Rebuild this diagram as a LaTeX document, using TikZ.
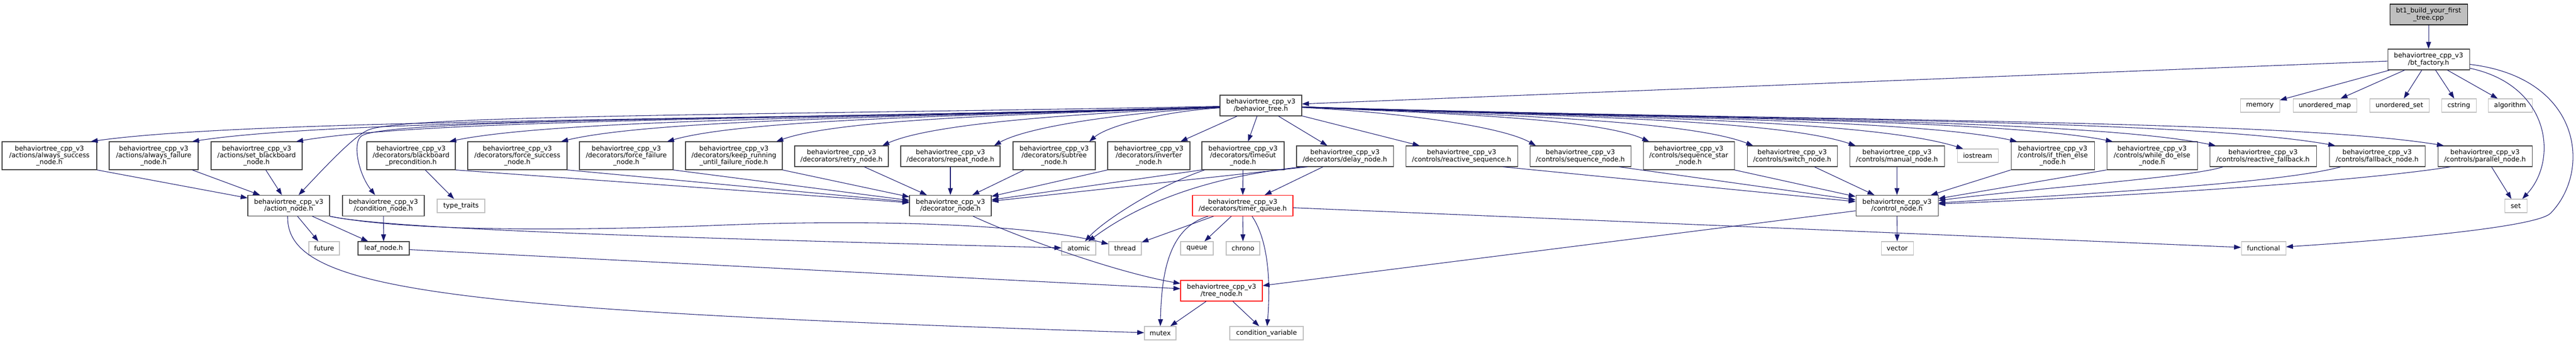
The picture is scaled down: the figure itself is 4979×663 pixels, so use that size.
\documentclass[tikz,border=0pt]{standalone}
\usepackage{fontspec}
\newfontfamily\djv{DejaVu Sans}
\usetikzlibrary{arrows.meta,calc}
\definecolor{edgec}{HTML}{191970}
\definecolor{boxc}{HTML}{404040}
\definecolor{sysc}{HTML}{BFBFBF}
\newcommand\btp{behaviortree\_cpp\_v3}
\newcommand\btR[3]{\draw[edge] (bt) .. controls ({2516+0.4*(#2-2516)},{212+0.01*(#2-2516)}) and ({#2-0.15*(#2-2516)},{max(#3-0.03*(#2-2516)-25,228)}) .. ($(#1.north west)+(12,0)$);}
\newcommand\btL[3]{\draw[edge] (bt) .. controls ({2358-0.4*(2358-#2)},{212+0.01*(2358-#2)}) and ({#2+0.15*(2358-#2)},{max(#3-0.03*(2358-#2)-25,228)}) .. ($(#1.north east)+(-12,0)$);}
\begin{document}
\begin{tikzpicture}[x=0.75pt,y=-0.75pt,
  bx/.style={draw=boxc, fill=white, line width=0.8pt, inner sep=0pt, align=center,
    font=\djv\fontsize{9.6pt}{10pt}\selectfont, minimum height=30pt},
  sys/.style={bx, draw=sysc},
  trunc/.style={bx, draw=red},
  bw/.style={minimum width=#1*0.75pt},
  h3/.style={minimum height=40.5pt},
  h1/.style={minimum height=19.5pt},
  edge/.style={draw=edgec, line width=0.8pt, -{Triangle[length=10pt,width=7pt]}}]
\fill[white] (0,0) rectangle (4979,663);
\useasboundingbox (0,0) rectangle (4979,663);

% top
\node[bx, fill=sysc, draw=black, bw=150] (root) at (4694,28) {bt1\_build\_your\_first\\\_tree.cpp};
\node[bx, bw=158] (fac) at (4694,115) {\btp\\/bt\_factory.h};
\node[bx, bw=158] (bt) at (2437,204) {\btp\\/behavior\_tree.h};
\node[sys, h1, bw=76] (mem) at (4368,204) {memory};
\node[sys, h1, bw=123] (umap) at (4493.5,204) {unordered\_map};
\node[sys, h1, bw=115] (uset) at (4637.5,204) {unordered\_set};
\node[sys, h1, bw=67] (cstr) at (4752.5,204) {cstring};
\node[sys, h1, bw=85] (alg) at (4851.5,204) {algorithm};

% row 1
\node[bx, h3, bw=183] (as) at (95.5,301) {\btp\\/actions/always\_success\\\_node.h};
\node[bx, h3, bw=172] (af) at (297,301) {\btp\\/actions/always\_failure\\\_node.h};
\node[bx, h3, bw=176] (sb) at (496,301) {\btp\\/actions/set\_blackboard\\\_node.h};
\node[bx, h3, bw=171] (bbp) at (794.5,301) {\btp\\/decorators/blackboard\\\_precondition.h};
\node[bx, h3, bw=192] (fsu) at (1000,301) {\btp\\/decorators/force\_success\\\_node.h};
\node[bx, h3, bw=181] (ffa) at (1210.5,301) {\btp\\/decorators/force\_failure\\\_node.h};
\node[bx, h3, bw=187] (krn) at (1418.5,301) {\btp\\/decorators/keep\_running\\\_until\_failure\_node.h};
\node[bx, bw=181] (rty) at (1626.5,302) {\btp\\/decorators/retry\_node.h};
\node[bx, bw=192] (rpt) at (1837,302) {\btp\\/decorators/repeat\_node.h};
\node[bx, h3, bw=159] (sbt) at (2037.5,301) {\btp\\/decorators/subtree\\\_node.h};
\node[bx, h3, bw=159] (inv) at (2220.5,301) {\btp\\/decorators/inverter\\\_node.h};
\node[bx, h3, bw=159] (tmo) at (2402.5,301) {\btp\\/decorators/timeout\\\_node.h};
\node[bx, bw=187] (dly) at (2599.5,302) {\btp\\/decorators/delay\_node.h};
\node[bx, bw=216] (rsq) at (2825,302) {\btp\\/controls/reactive\_sequence.h};
\node[bx, bw=195] (seq) at (3054.5,302) {\btp\\/controls/sequence\_node.h};
\node[bx, h3, bw=176] (sqs) at (3264,301) {\btp\\/controls/sequence\_star\\\_node.h};
\node[bx, bw=174] (swi) at (3464,302) {\btp\\/controls/switch\_node.h};
\node[bx, bw=183] (man) at (3666.5,302) {\btp\\/controls/manual\_node.h};
\node[sys, h1, bw=79] (ios) at (3822.5,301) {iostream};
\node[bx, h3, bw=161] (ite) at (3967.5,301) {\btp\\/controls/if\_then\_else\\\_node.h};
\node[bx, h3, bw=175] (wde) at (4159.5,301) {\btp\\/controls/while\_do\_else\\\_node.h};
\node[bx, bw=206] (rfb) at (4374,302) {\btp\\/controls/reactive\_fallback.h};
\node[bx, bw=185] (fbk) at (4594.5,302) {\btp\\/controls/fallback\_node.h};
\node[bx, bw=182] (par) at (4803,302) {\btp\\/controls/parallel\_node.h};

% row 2
\node[bx, bw=158] (act) at (558,397.5) {\btp\\/action\_node.h};
\node[bx, bw=158] (cond) at (741,397.5) {\btp\\/condition\_node.h};
\node[sys, h1, bw=92] (tt) at (891,398) {type\_traits};
\node[bx, bw=158] (dec) at (1837,397.5) {\btp\\/decorator\_node.h};
\node[trunc, bw=194] (tq) at (2402,397.5) {\btp\\/decorators/timer\_queue.h};
\node[bx, bw=159] (ctl) at (3666.5,397.5) {\btp\\/control\_node.h};
\node[sys, h1, bw=43] (set) at (4862.5,398) {set};

% row 3
\node[sys, h1, bw=59] (fut) at (626.5,480) {future};
\node[bx, h1, bw=99] (leaf) at (741.5,480) {leaf\_node.h};
\node[sys, h1, bw=66] (atm) at (2085,480) {atomic};
\node[sys, h1, bw=63] (thr) at (2174.5,480) {thread};
\node[sys, h1, bw=63] (que) at (2313.5,480) {queue};
\node[sys, h1, bw=65] (chr) at (2402.5,480) {chrono};
\node[sys, h1, bw=62] (vec) at (3667,480) {vector};
\node[sys, h1, bw=86] (fnc) at (4375,480) {functional};

\node[trunc, bw=158] (tree) at (2361,562) {\btp\\/tree\_node.h};
\node[sys, h1, bw=61] (mtx) at (2242.5,644) {mutex};
\node[sys, h1, bw=142] (cv) at (2448,644) {condition\_variable};

% edges top
\draw[edge] (root) -- (fac);
\draw[edge] (fac) -- (bt);
\draw[edge] (fac) -- (mem);
\draw[edge] (fac) -- (umap);
\draw[edge] (fac) -- (uset);
\draw[edge] (fac) -- (cstr);
\draw[edge] (fac) -- (alg);
\draw[edge] (fac) .. controls (4930,165) and (4945,310) .. (set);
\draw[edge] (fac) .. controls (4990,150) and (5010,330) .. (4930,412) .. controls (4905,438) and (4650,462) .. (fnc);

% behavior_tree.h fan-out
\btL{as}{175}{274}
\btL{af}{371}{274}
\btL{sb}{572}{274}
\btL{bbp}{868}{274}
\btL{fsu}{1084}{274}
\btL{ffa}{1289}{274}
\btL{krn}{1500}{274}
\btL{rty}{1705}{282}
\btL{rpt}{1921}{282}
\btL{sbt}{2105}{274}
\draw[edge] (bt) -- (inv);
\draw[edge] (bt) -- (tmo);
\draw[edge] (bt) -- (dly);
\draw[edge] (bt) -- (rsq);
\btR{seq}{2969}{282}
\btR{sqs}{3188}{274}
\btR{swi}{3389}{282}
\btR{man}{3587}{282}
\btR{ios}{3795}{288}
\btR{ite}{3899}{274}
\btR{wde}{4084}{274}
\btR{rfb}{4283}{282}
\btR{fbk}{4514}{282}
\btR{par}{4724}{282}
\draw[edge] (bt) .. controls (1500,222) and (800,222) .. (715,250) .. controls (690,258) and (640,310) .. (act);
\draw[edge] (bt) .. controls (1600,230) and (760,228) .. (700,262) .. controls (680,273) and (692,335) .. (cond);

% row1 -> row2
\draw[edge] (as.south east) -- (act);
\draw[edge] (af) -- (act);
\draw[edge] (sb) -- (act);
\draw[edge] (bbp.south east) -- (dec);
\draw[edge] (bbp) -- (tt);
\draw[edge] (fsu.south east) -- (dec);
\draw[edge] (ffa.south east) -- (dec);
\draw[edge] (krn.south east) -- (dec);
\draw[edge] ($(rty.south)+(44,0)$) -- (dec);
\draw[edge] (rpt) -- (dec);
\draw[edge] ($(sbt.south west)+(22,0)$) -- (dec);
\draw[edge] (inv.south west) -- (dec);
\draw[edge] (tmo.south west) -- (dec);
\draw[edge] ($(dly.south west)+(22,0)$) -- (dec);
\draw[edge] (tmo) -- (tq);
\draw[edge] (dly) -- (tq);
\draw[edge] ($(tmo.south west)+(6,0)$) .. controls (2230,362) and (2130,430) .. (atm);
\draw[edge] ($(dly.south west)+(12,0)$) .. controls (2300,345) and (2180,410) .. (atm);
\draw[edge] ($(rsq.south)+(80,0)$) -- (ctl);
\draw[edge] ($(seq.south)+(75,0)$) -- (ctl);
\draw[edge] (sqs.south east) -- (ctl);
\draw[edge] ($(swi.south)+(43,0)$) -- (ctl);
\draw[edge] (man) -- (ctl);
\draw[edge] (ite.south west) -- (ctl);
\draw[edge] (wde.south west) -- (ctl);
\draw[edge] ($(rfb.south west)+(26,0)$) .. controls (4240,342) and (3950,362) .. (ctl);
\draw[edge] ($(fbk.south west)+(23,0)$) .. controls (4400,356) and (4000,376) .. (ctl);
\draw[edge] ($(par.south west)+(25,0)$) .. controls (4550,352) and (4100,380) .. (ctl);
\draw[edge] (par) -- (set);

% row2 -> below
\draw[edge] (act) -- (fut);
\draw[edge] (act) -- (leaf);
\draw[edge] (act.south east) .. controls (760,445) and (1400,462) .. (atm);
\draw[edge] (act.south east) .. controls (800,450) and (1150,445) .. (1400,435) .. controls (1650,425) and (1980,430) .. (thr);
\draw[edge] ($(act.south)+(-2,0)$) .. controls (553,560) and (850,600) .. (mtx);
\draw[edge] (cond) -- (leaf);
\draw[edge] (leaf) -- (tree);
\draw[edge] (dec) .. controls (1960,455) and (2150,525) .. (tree);
\draw[edge] (tq) -- (thr);
\draw[edge] (tq) -- (que);
\draw[edge] (tq) -- (chr);
\draw[edge] ($(tq.south)+(-67,0)$) .. controls (2262,440) and (2245,520) .. (mtx);
\draw[edge] ($(tq.south)+(18,0)$) .. controls (2455,470) and (2455,560) .. (cv);
\draw[edge] (tq) -- (fnc);
\draw[edge] (ctl) -- (tree);
\draw[edge] (ctl) -- (vec);
\draw[edge] (tree) -- (mtx);
\draw[edge] (tree) -- (cv);
\end{tikzpicture}
\end{document}
